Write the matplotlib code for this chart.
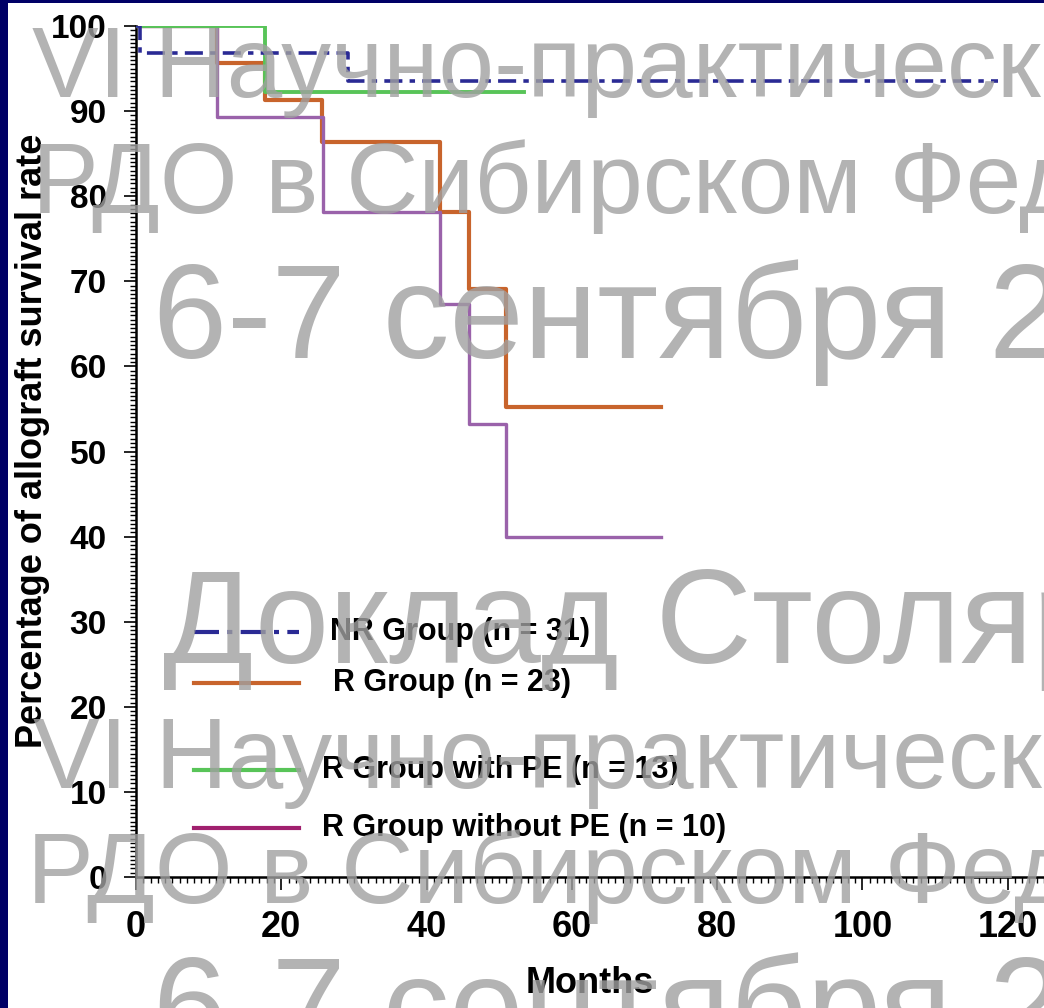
# Allograft survival by group (Kaplan-Meier) on a slide with watermark
import matplotlib.pyplot as plt
from matplotlib.lines import Line2D
from matplotlib.patches import Rectangle
from matplotlib.ticker import MultipleLocator

plt.rcParams['font.family'] = ['Liberation Sans', 'DejaVu Sans']

# step data (months, % surviving)
nr_t = [0, 0.6, 29.2, 118.7]
nr_s = [100, 96.8, 93.5, 93.5]
r_t = [0, 11.1, 17.8, 25.6, 41.9, 45.8, 50.9, 72.3]
r_s = [100, 95.7, 91.3, 86.4, 78.1, 69.1, 55.2, 55.2]
pe_t = [0, 17.8, 53.4]
pe_s = [100, 92.3, 92.3]
nope_t = [0, 11.1, 25.7, 41.9, 45.8, 50.9, 72.3]
nope_s = [100, 89.3, 78.2, 67.3, 53.2, 40.0, 40.0]

labels = ['NR Group (n = 31)', 'R Group (n = 23)',
          'R Group with PE (n = 13)', 'R Group without PE (n = 10)']
x_ticks = [0, 20, 40, 60, 80, 100, 120]
y_ticks = [0, 10, 20, 30, 40, 50, 60, 70, 80, 90, 100]

watermark = [
    ('VI Научно-практической конференции', 72),
    ('РДО в Сибирском Федеральном округе', 72),
    ('6-7 сентября 2012', 96),
    ('Доклад Столярова', 96),
]

c_nr = '#2a2a94'
c_r = '#c8642c'
c_pe = '#58c458'
c_nope = '#9a62aa'

W, H = 1044, 1008
fig = plt.figure(figsize=(W / 100, H / 100), dpi=100, facecolor='white')
# navy slide frame on the left and top
fig.patches.append(Rectangle((0, 0), 8 / W, 1, transform=fig.transFigure,
                             facecolor='#000066', edgecolor='none', zorder=-10))
fig.patches.append(Rectangle((0, (H - 3) / H), 1, 3 / H, transform=fig.transFigure,
                             facecolor='#000066', edgecolor='none', zorder=-10))

ax = fig.add_axes([136 / W, (H - 877) / H, (W - 136) / W, (877 - 26) / H])
ax.set_facecolor('none')

ax.step(r_t, r_s, where='post', color=c_r, lw=3.0, zorder=3)
ax.step(nope_t, nope_s, where='post', color=c_nope, lw=2.4, zorder=3)
ax.step(pe_t, pe_s, where='post', color=c_pe, lw=2.8, zorder=4)
ax.step(nr_t, nr_s, where='post', color=c_nr, lw=2.6, zorder=5,
        linestyle=(0, (5, 2, 1.5, 2)))

ax.set_xlim(0, 125)
ax.set_ylim(0, 100)
ax.set_xticks(x_ticks)
ax.set_yticks(y_ticks)
ax.xaxis.set_minor_locator(MultipleLocator(1))
ax.yaxis.set_minor_locator(MultipleLocator(0.5))
ax.spines['top'].set_visible(False)
ax.spines['right'].set_visible(False)
for s in ('left', 'bottom'):
    ax.spines[s].set_linewidth(1.8)
ax.tick_params(which='major', direction='out', length=9, width=1.2)
ax.tick_params(which='minor', direction='out', length=4, width=1.0)
ax.tick_params(axis='y', which='major', pad=12, labelsize=24)
ax.tick_params(axis='x', which='major', pad=15, labelsize=26)
for lab in ax.get_xticklabels() + ax.get_yticklabels():
    lab.set_fontweight('bold')

ax.set_xlabel('Months', fontsize=26, fontweight='bold')
ax.xaxis.set_label_coords(0.5, -0.105)
ax.set_ylabel('Percentage of allograft survival rate', fontsize=26, fontweight='bold')
ax.yaxis.set_label_coords(-0.095, 0.513)

# hand-placed legend (uneven row spacing as in the source)
rows_y = [632, 683, 770, 828]
text_x = [330, 333, 322, 322]
styles = [dict(color=c_nr, linestyle=(0, (6, 2, 1.2, 2))), dict(color=c_r),
          dict(color=c_pe), dict(color='#a0206e')]
for lab, py, tx, st in zip(labels, rows_y, text_x, styles):
    fy = (H - py) / H
    fig.add_artist(Line2D([194 / W, 299 / W], [fy, fy], lw=3, **st))
    fig.text(tx / W, fy, lab, fontsize=22, fontweight='bold', va='center', ha='left')

# slide watermark
wm_color = '#a0a0a0'
wm_rows = [(32, 97, 0), (32, 213, 1), (153, 358, 2), (163, 663, 3),
           (33, 788, 0), (27, 903, 1), (153, 1051, 2)]
for px, py, i in wm_rows:
    txt, size = watermark[i]
    fig.text(px / W, (H - py) / H, txt, fontsize=size, color=wm_color,
             alpha=0.8, va='baseline', ha='left', zorder=10)

fig.savefig('out.png', dpi=100)
